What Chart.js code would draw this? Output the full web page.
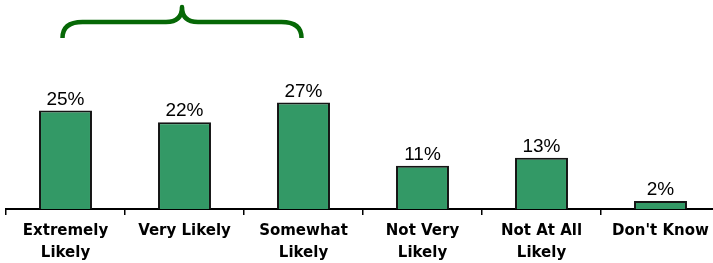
<!DOCTYPE html>
<html>
<head>
<meta charset="utf-8">
<script src="https://cdn.jsdelivr.net/npm/chart.js@4/dist/chart.umd.min.js"></script>
<style>
  html, body { margin: 0; padding: 0; background: #fff; }
  #frame { width: 713px; height: 263px; overflow: hidden; position: relative; }
  #wrap { width: 720px; height: 263px; position: relative; }
</style>
</head>
<body>
<div id="frame"><div id="wrap"><canvas id="likelyChart"></canvas></div></div>
<script>
'use strict';

const CATEGORIES = [
  ['Extremely', 'Likely'],
  'Very Likely',
  ['Somewhat', 'Likely'],
  ['Not Very', 'Likely'],
  ['Not At All', 'Likely'],
  "Don't Know",
];
const VALUES = [25, 22, 27, 11, 13, 2];
const Y_MAX = 50;

const BAR_GREEN = '#339966';
const BRACE_GREEN = '#066806';

// percentage labels above each bar
const valueLabels = {
  id: 'valueLabels',
  afterDatasetsDraw(chart) {
    const ctx = chart.ctx;
    const meta = chart.getDatasetMeta(0);
    ctx.save();
    ctx.font = '19px "Liberation Sans", Arial, sans-serif';
    ctx.fillStyle = '#000';
    ctx.textAlign = 'center';
    ctx.textBaseline = 'alphabetic';
    meta.data.forEach((bar, i) => {
      ctx.fillText(`${VALUES[i]}%`, bar.x, bar.y - 6);
    });
    ctx.restore();
  },
};

// curly brace over the first three categories
const topBrace = {
  id: 'topBrace',
  afterDraw(chart) {
    const ctx = chart.ctx;
    const x = chart.scales.x;
    const left = x.getPixelForValue(0) - 3;
    const right = x.getPixelForValue(2) - 2;
    const mid = (left + right) / 2;
    const yLow = 38, yBar = 22, yPeak = 7;
    ctx.save();
    ctx.strokeStyle = BRACE_GREEN;
    ctx.lineWidth = 4.5;
    ctx.lineJoin = 'round';
    ctx.beginPath();
    ctx.moveTo(left, yLow);
    ctx.quadraticCurveTo(left, yBar, left + 20, yBar);
    ctx.lineTo(mid - 16, yBar);
    ctx.quadraticCurveTo(mid, yBar, mid, yPeak);
    ctx.quadraticCurveTo(mid, yBar, mid + 16, yBar);
    ctx.lineTo(right - 20, yBar);
    ctx.quadraticCurveTo(right, yBar, right, yLow);
    ctx.stroke();
    ctx.restore();
  },
};

new Chart(document.getElementById('likelyChart'), {
  type: 'bar',
  data: {
    labels: CATEGORIES,
    datasets: [{
      data: VALUES,
      backgroundColor: BAR_GREEN,
      borderColor: '#151515',
      borderWidth: 2,
      barPercentage: 0.445,
      categoryPercentage: 1,
    }],
  },
  options: {
    responsive: true,
    maintainAspectRatio: false,
    animation: false,
    layout: { padding: { left: 6, top: 12, right: 0, bottom: 0 } },
    plugins: {
      legend: { display: false },
      tooltip: { enabled: false },
    },
    scales: {
      x: {
        afterFit(scale) { scale.height = 54; },
        grid: {
          offset: true,
          drawOnChartArea: false,
          drawTicks: true,
          tickLength: 6,
          color: '#000',
          lineWidth: 1.5,
        },
        border: { display: true, color: '#000', width: 2 },
        ticks: {
          autoSkip: false,
          maxRotation: 0,
          minRotation: 0,
          padding: 5,
          color: '#000',
          font: { family: '"DejaVu Sans", Verdana, sans-serif', size: 15, weight: 'bold', lineHeight: 1.45 },
        },
      },
      y: {
        display: false,
        min: 0,
        max: Y_MAX,
      },
    },
  },
  plugins: [valueLabels, topBrace],
});
</script>
</body>
</html>
